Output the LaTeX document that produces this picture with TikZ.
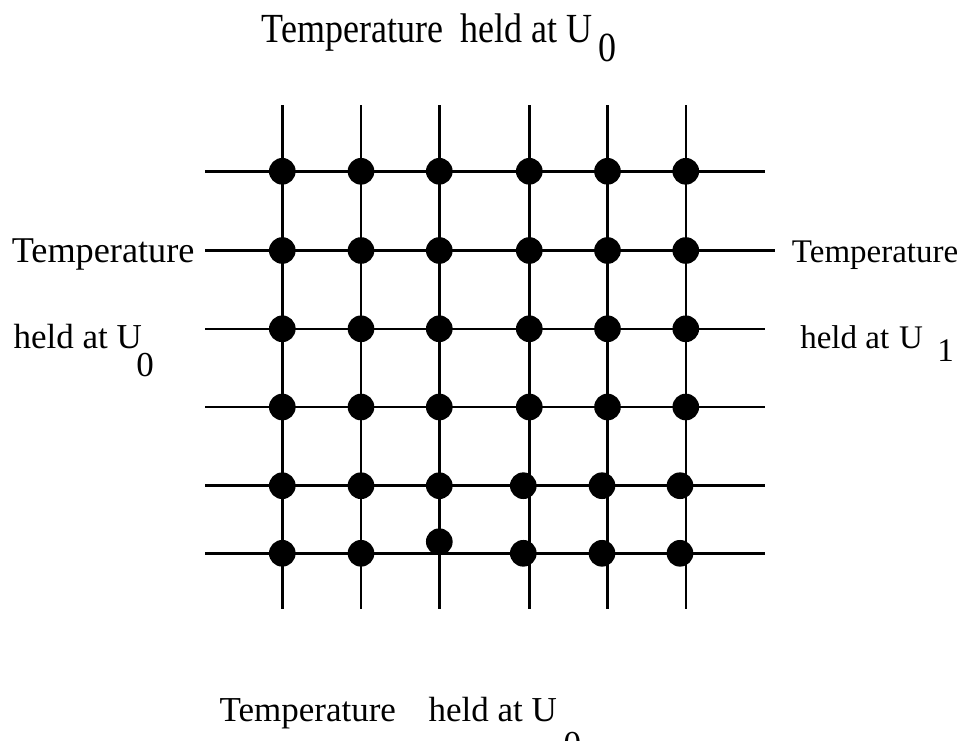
\documentclass[tikz,border=0pt]{standalone}
\usepackage{fontspec}
\setmainfont{Liberation Serif}
\begin{document}
\begin{tikzpicture}[x=0.75pt,y=-0.75pt,
  gridline/.style={line width=1.9pt,black},
  dot/.style={circle,fill=black,inner sep=0pt,minimum size=20pt},
  lab/.style={anchor=base west,inner sep=0pt,font=\fontsize{26.25pt}{30pt}\selectfont},
  labbig/.style={anchor=base west,inner sep=0pt,font=\fontsize{27.2pt}{31pt}\selectfont},
  labtop/.style={anchor=base west,inner sep=0pt,font=\fontsize{27pt}{31pt}\selectfont},
  labr/.style={anchor=base west,inner sep=0pt,font=\fontsize{24.75pt}{28pt}\selectfont}]
\useasboundingbox (0,0) rectangle (972,740);
% line end points
\foreach \i/\y in {1/171.3,3/328.8,4/407,5/485.7,6/553.3}{
  \coordinate (hL\i) at (205,\y);
  \coordinate (hR\i) at (764.5,\y);
}
\coordinate (hL2) at (205,250.5);
\coordinate (hR2) at (775,250.5);
\foreach \j/\x in {1/282.3,2/361,3/439.3,4/529.3,5/607.5,6/685.8}{
  \coordinate (vT\j) at (\x,105);
  \coordinate (vB\j) at (\x,609);
}
\foreach \i in {1,...,6}{ \draw[gridline] (hL\i) -- (hR\i); }
\foreach \j in {1,...,6}{ \draw[gridline] (vT\j) -- (vB\j); }
% dots
\foreach \i/\y in {1/171.3,2/250.5,3/328.8,4/407}{
  \foreach \j/\x in {1/282.3,2/361,3/439.3,4/529.3,5/607.5,6/685.8}{
    \node[dot] (d\i\j) at (\x,\y) {};
  }
}
\foreach \j/\x in {1/282.3,2/361,3/439.3,4/523.3,5/602,6/680}{
  \node[dot] (d5\j) at (\x,485.7) {};
}
\foreach \j/\x/\y in {1/282.3/553.3,2/361/553.3,3/439.3/541.7,4/523.3/553.3,5/602/553.3,6/680/553.3}{
  \node[dot] (d6\j) at (\x,\y) {};
}
% labels
\node[labtop] (t1) at (261.7,42.3) {\scalebox{1}[1.15]{Temperature}};
\node[labtop] (t2) at (460.7,42.3) {\scalebox{1}[1.15]{held at U}};
\node[labtop] (t3) at (598,61) {\scalebox{1}[1.15]{0}};
\node[labbig] (l1) at (11.5,262.3) {Temperature};
\node[lab] (l2) at (13.3,348.3) {held at U};
\node[lab] (l3) at (136,376) {0};
\node[labr] (r1) at (791.7,262.3) {Temperature};
\node[labr] (r2) at (800,348.3) {held at\hspace{0.3em}U};
\node[labr] (r3) at (937,361.7) {1};
\node[lab] (b1) at (219.3,721.7) {Temperature};
\node[lab] (b2) at (428.3,721.7) {held at U};
\node[lab] (b3) at (563.3,755.7) {0};
\end{tikzpicture}
\end{document}
